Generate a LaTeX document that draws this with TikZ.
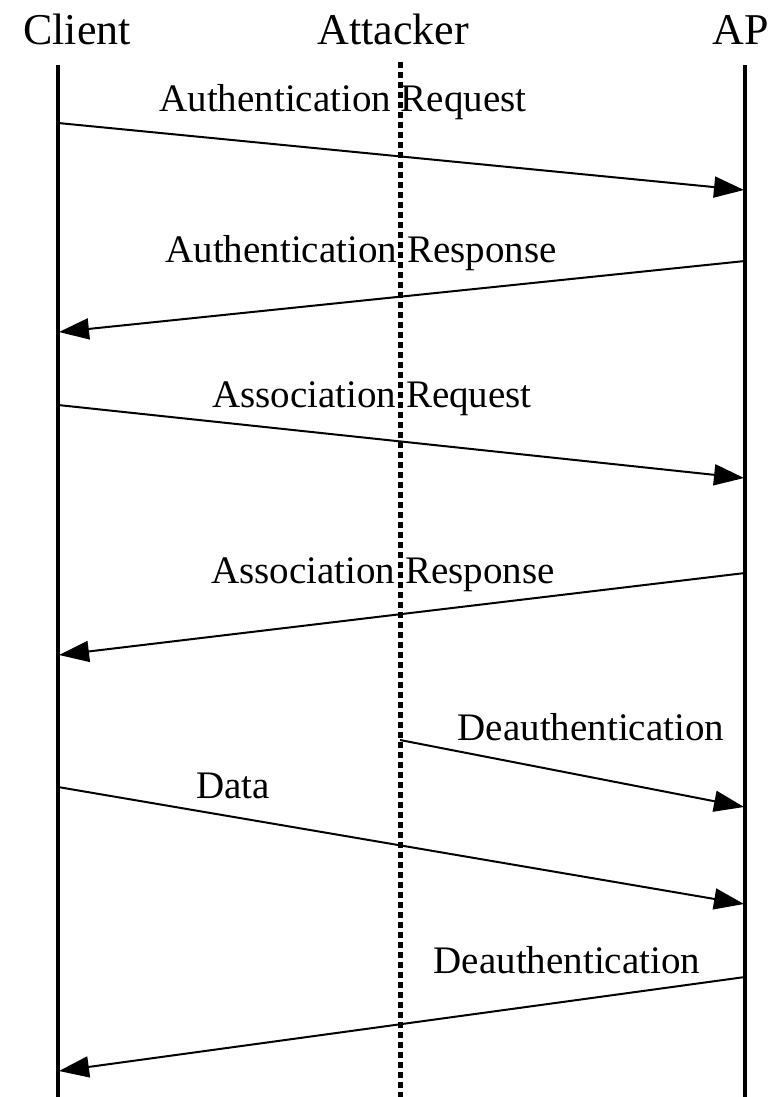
\documentclass[tikz,border=0pt]{standalone}
\usepackage{fontspec}
\setmainfont{Liberation Serif}
\usetikzlibrary{arrows.meta}
\tikzset{
  lifeline/.style={line width=4pt},
  attackline/.style={line width=5pt, dash pattern=on 6pt off 4pt},
  msg/.style={line width=2pt, -{Triangle[length=30pt,width=21pt]}},
  head/.style={anchor=base, inner sep=0pt, font=\fontsize{44}{50}\selectfont},
  lbl/.style={anchor=base, inner sep=0pt, font=\fontsize{39}{45}\selectfont}
}
\begin{document}
\begin{tikzpicture}[x=1pt,y=-1pt]
        \useasboundingbox (0,0) rectangle (775,1097);

        \node[head] (client) at (77,45) {Client};
        \node[head] (attacker) at (393,45) {Attacker};
        \node[head] (ap) at (741,45) {AP};

        \draw[lifeline] (58,65) -- (58,1097);
        \draw[lifeline] (745,65) -- (745,1097);
        \draw[attackline] (400,62) -- (400,1097);

        % message end points
        \coordinate (c1) at (58,123);  \coordinate (a1) at (744,190);
        \coordinate (a2) at (745,261); \coordinate (c2) at (59,332);
        \coordinate (c3) at (58,405);  \coordinate (a3) at (744,478);
        \coordinate (a4) at (745,573); \coordinate (c4) at (59,655);
        \coordinate (t5) at (400,740); \coordinate (a5) at (744,807);
        \coordinate (c6) at (58,787);  \coordinate (a6) at (744,904);
        \coordinate (a7) at (745,977); \coordinate (c7) at (59,1071);

        \draw[msg] (c1) -- (a1);
        \draw[msg] (a2) -- (c2);
        \draw[msg] (c3) -- (a3);
        \draw[msg] (a4) -- (c4);
        \draw[msg] (t5) -- (a5);
        \draw[msg] (c6) -- (a6);
        \draw[msg] (a7) -- (c7);

        \node[lbl] (l1) at (343,112) {Authentication Request};
        \node[lbl] (l2) at (361,262) {Authentication Response};
        \node[lbl] (l3) at (372,407) {Association Request};
        \node[lbl] (l4) at (383,583) {Association Response};
        \node[lbl] (l5) at (591,740) {Deauthentication};
        \node[lbl] (l6) at (233,798) {Data};
        \node[lbl] (l7) at (567,973) {Deauthentication};
    \end{tikzpicture}
\end{document}
